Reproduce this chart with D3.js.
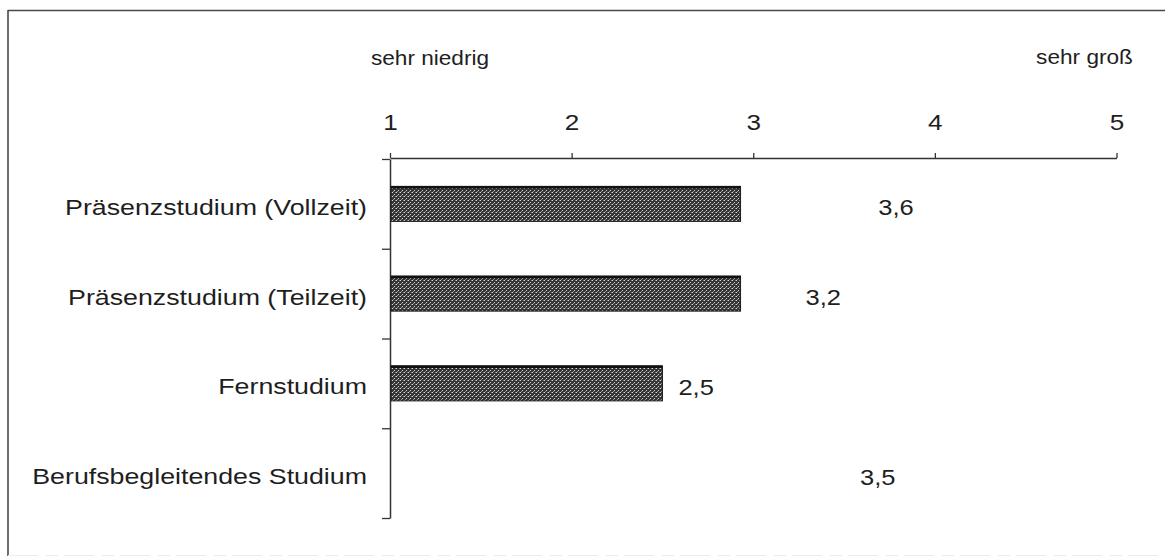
<!DOCTYPE html>
<html>
<head>
<meta charset="utf-8">
<script src="https://cdn.jsdelivr.net/npm/d3@7"></script>
<style>
  html, body { margin: 0; padding: 0; background: #ffffff; }
  svg { display: block; }
  text { font-family: "Liberation Sans", Arial, sans-serif; fill: #1e1e1e; }
</style>
</head>
<body>
<svg id="chart" width="1165" height="560"></svg>
<script>
// ---- data ----
const categories = [
  "Präsenzstudium (Vollzeit)",
  "Präsenzstudium (Teilzeit)",
  "Fernstudium",
  "Berufsbegleitendes Studium"
];
// drawn bar lengths as they appear in the reference (null = no bar)
const barValues = [2.93, 2.93, 2.5, null];
// printed value labels
const labelValues = [3.6, 3.2, 2.5, 3.5];
const tickValues = [1, 2, 3, 4, 5];
const scaleEndLabels = ["sehr niedrig", "sehr groß"];

// ---- layout ----
const W = 1165, H = 560;
const x0 = 390, x1 = 1116.5, axisY = 158, plotBottom = 518;
const stretch = 1.16, catStretch = 1.19;

const svg = d3.select("#chart");

// frame
svg.append("line").attr("x1", 8).attr("x2", W).attr("y1", 10.5).attr("y2", 10.5)
  .attr("stroke", "#4a4a4a").attr("stroke-width", 1.6);
svg.append("line").attr("x1", 8).attr("x2", 8).attr("y1", 10).attr("y2", 556)
  .attr("stroke", "#4a4a4a").attr("stroke-width", 1.6);
svg.append("line").attr("x1", 8).attr("x2", W).attr("y1", 555.5).attr("y2", 555.5)
  .attr("stroke", "#ececec").attr("stroke-width", 1.2).attr("stroke-dasharray", "30,8,12,6");

// stipple pattern
const defs = svg.append("defs");
const pat = defs.append("pattern").attr("id", "stipple")
  .attr("patternUnits", "userSpaceOnUse").attr("width", 4).attr("height", 4);
pat.append("rect").attr("width", 4).attr("height", 4).attr("fill", "#353535");
pat.append("rect").attr("x", 0).attr("y", 0).attr("width", 1).attr("height", 1).attr("fill", "#d8d8d8");
pat.append("rect").attr("x", 2).attr("y", 2).attr("width", 1).attr("height", 1).attr("fill", "#cccccc");
pat.append("rect").attr("x", 3).attr("y", 0).attr("width", 1).attr("height", 1).attr("fill", "#808080");
pat.append("rect").attr("x", 1).attr("y", 3).attr("width", 1).attr("height", 1).attr("fill", "#909090");

// scales
const x = d3.scaleLinear().domain([1, 5]).range([x0, x1]);
const y = d3.scaleBand().domain(categories).range([axisY + 1, plotBottom])
  .paddingInner(0.61).paddingOuter(0.305);
const yEdge = d3.scaleLinear().domain([0, categories.length]).range([axisY + 1, plotBottom]);

// top axis
const topAxis = svg.append("g").attr("transform", `translate(0,${axisY})`)
  .call(d3.axisTop(x).tickValues(tickValues).tickSize(5).tickPadding(23)
    .tickFormat(d3.format("d")).tickSizeOuter(0));
topAxis.select(".domain").attr("stroke", "#333").attr("stroke-width", 1.5);
topAxis.selectAll(".tick line").attr("stroke", "#333").attr("stroke-width", 1.3);
topAxis.selectAll(".tick text")
  .attr("font-size", 22.5).attr("fill", "#1e1e1e")
  .attr("font-family", "Liberation Sans, Arial, sans-serif")
  .attr("transform", `scale(${stretch},1)`);

// left axis (ticks at band boundaries)
const leftAxis = svg.append("g").attr("transform", `translate(${x0},0)`)
  .call(d3.axisLeft(yEdge).tickValues(d3.range(0, categories.length + 1))
    .tickSize(8).tickFormat("").tickSizeOuter(0));
leftAxis.select(".domain").attr("stroke", "#333").attr("stroke-width", 1.5);
leftAxis.selectAll(".tick line").attr("stroke", "#333").attr("stroke-width", 1.3);

// scale end labels
svg.append("text").attr("transform", `translate(${x(1) + 40},65) scale(${stretch},1)`)
  .attr("text-anchor", "middle").attr("font-size", 19.5).text(scaleEndLabels[0]);
svg.append("text").attr("transform", `translate(${x(5) - 32},64) scale(${stretch},1)`)
  .attr("text-anchor", "middle").attr("font-size", 19.5).text(scaleEndLabels[1]);

// category labels
svg.append("g").selectAll("text").data(categories).join("text")
  .attr("transform", d => `translate(${x0 - 23},${y(d) + y.bandwidth() / 2 + 11}) scale(${catStretch},1)`)
  .attr("text-anchor", "end").attr("font-size", 22.5)
  .text(d => d);

// bars
const rows = categories.map((c, i) => ({ c, bar: barValues[i], label: labelValues[i] }));
svg.append("g").selectAll("rect").data(rows.filter(r => r.bar != null)).join("rect")
  .attr("x", x(1) + 1)
  .attr("y", r => y(r.c))
  .attr("width", r => x(r.bar) - x(1) - 1)
  .attr("height", y.bandwidth())
  .attr("fill", "url(#stipple)")
  .attr("stroke", "#1a1a1a").attr("stroke-width", 1);
svg.append("g").selectAll("line").data(rows.filter(r => r.bar != null)).join("line")
  .attr("x1", x(1) + 1).attr("x2", r => x(r.bar))
  .attr("y1", r => y(r.c) + 1).attr("y2", r => y(r.c) + 1)
  .attr("stroke", "#111").attr("stroke-width", 2.5);

// value labels
const fmt = v => d3.format(".1f")(v).replace(".", ",");
svg.append("g").selectAll("text").data(rows).join("text")
  .attr("transform", r => `translate(${x(r.label) + 16},${y(r.c) + y.bandwidth() / 2 + 11.5}) scale(${stretch},1)`)
  .attr("text-anchor", "start").attr("font-size", 22)
  .text(r => fmt(r.label));
</script>
</body>
</html>
